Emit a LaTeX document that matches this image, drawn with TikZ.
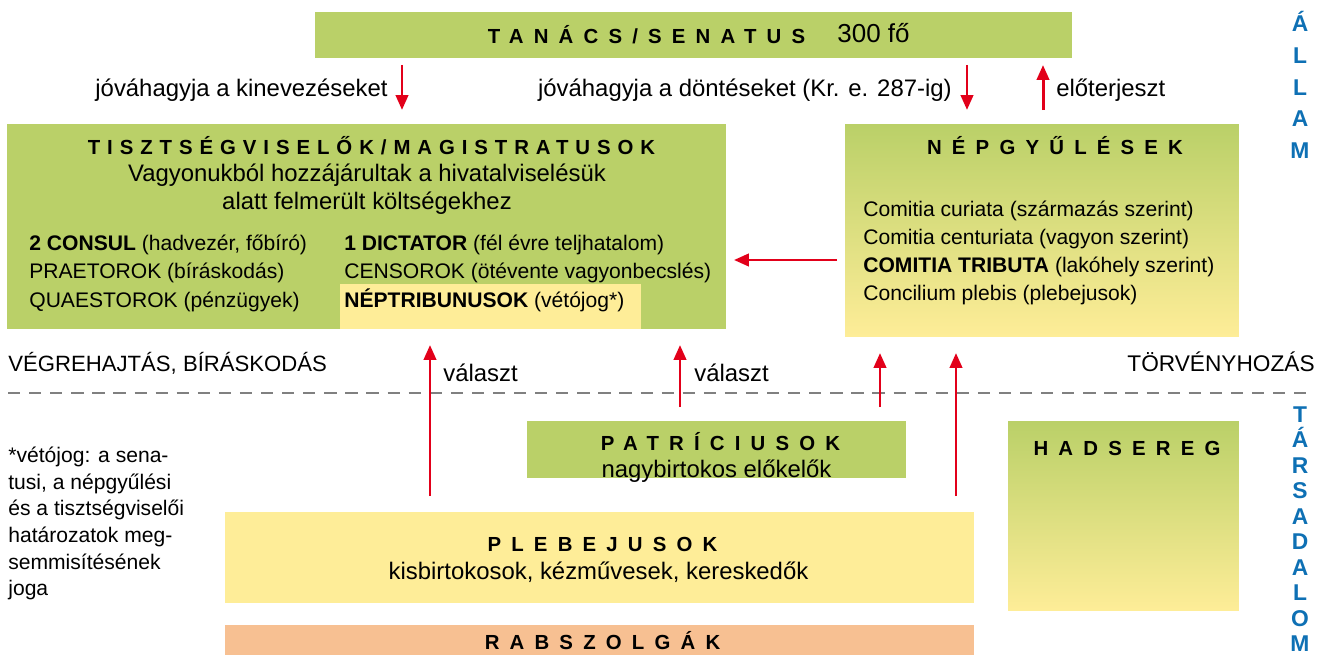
\documentclass[tikz,border=0pt]{standalone}
\usepackage{fontspec}
\setmainfont{Liberation Sans}
\usepackage{tikz}
\usetikzlibrary{arrows.meta}

\definecolor{zold}{RGB}{186,208,104}
\definecolor{sarga}{RGB}{254,237,152}
\definecolor{narancs}{RGB}{247,192,146}
\definecolor{piros}{RGB}{226,0,26}
\definecolor{kek}{RGB}{14,112,180}
\definecolor{szurke}{RGB}{128,128,128}

\begin{document}
\begin{tikzpicture}[
    x=0.02cm, y=-0.02cm,     % 1 像素 = 0.02cm
    % 盒子样式定义
    doboz/.style={
        rectangle,           % 矩形
        inner sep=0pt,       % 内部填充为0
        outer sep=0pt        % 外部填充为0
    },
    zold doboz/.style={doboz, fill=zold},
    sarga doboz/.style={doboz, fill=sarga},
    narancs doboz/.style={doboz, fill=narancs},
    atmenet doboz/.style={doboz, top color=zold, bottom color=sarga}, % 渐变填充
    % 文字样式定义
    nagy/.style={
        font=\fontsize{13.6}{16}\selectfont,
        inner sep=0pt,
        text height=10.2pt,
        text depth=2.9pt
    },
    kis/.style={
        font=\fontsize{12}{15}\selectfont,
        inner sep=0pt,
        text height=9pt,
        text depth=2.5pt
    },
    cim/.style={
        font={\fontsize{11.6}{14}\selectfont\bfseries\addfontfeature{LetterSpace=50}},
        inner sep=0pt,
        text height=8.4pt,
        text depth=0pt
    },
    betu/.style={
        font=\fontsize{13}{18}\selectfont\bfseries,
        text=kek,
        align=center,
        inner sep=0pt
    },
    % 箭头样式定义
    nyil/.style={
        draw=piros,          % 红色
        line width=1.7pt,    % 线宽
        -{Triangle[length=8.5pt, width=7pt]}
    },
    % 虚线样式定义
    szaggatott/.style={
        draw=szurke,
        line width=1.7pt,
        dash pattern=on 7pt off 5pt
    }
]
\useasboundingbox (0,0) rectangle (1330,655);

% 定义盒子
\node[zold doboz, minimum width=15.14cm, minimum height=0.92cm] (tanacs) at (693.5,35) {};
\node[zold doboz, minimum width=14.38cm, minimum height=4.1cm] (magis) at (366.5,226.5) {};
\node[sarga doboz, minimum width=6.02cm, minimum height=0.9cm] (ntribh) at (490.5,306.5) {};
\node[atmenet doboz, minimum width=7.88cm, minimum height=4.26cm] (nepgy) at (1042,230.5) {};
\node[zold doboz, minimum width=7.58cm, minimum height=1.14cm] (patr) at (716.5,449.5) {};
\node[atmenet doboz, minimum width=4.62cm, minimum height=3.8cm] (hads) at (1123.5,516) {};
\node[sarga doboz, minimum width=14.98cm, minimum height=1.82cm] (pleb) at (599.5,557.5) {};
\node[narancs doboz, minimum width=14.98cm, minimum height=0.7cm] (rab) at (599.5,642.5) {};

% 分隔线
\coordinate (sz1) at (8,393);
\coordinate (sz2) at (1315,393);
\draw[szaggatott] (sz1) -- (sz2);

% 箭头的横坐标
\coordinate (n1) at (402,0);
\coordinate (n2) at (967,0);
\coordinate (n3) at (1043,0);
\coordinate (b1) at (0,260);
\coordinate (v1) at (430,0);
\coordinate (v2) at (680,0);
\coordinate (v3) at (880,0);
\coordinate (v4) at (956,0);

% 箭头
\draw[nyil, shorten <=0.14cm, shorten >=0.28cm] (tanacs.south -| n1) -- (magis.north -| n1);
\draw[nyil, shorten <=0.14cm, shorten >=0.28cm] (tanacs.south -| n2) -- (nepgy.north -| n2);
\draw[nyil, shorten <=0.28cm, shorten >=0.14cm] (nepgy.north -| n3) -- (tanacs.south -| n3);
\draw[nyil, shorten <=0.16cm, shorten >=0.16cm] (nepgy.west |- b1) -- (magis.east |- b1);
\draw[nyil, shorten <=0.32cm, shorten >=0.32cm] (pleb.north -| v1) -- (magis.south -| v1);
\draw[nyil, shorten <=0.28cm, shorten >=0.32cm] (patr.north -| v2) -- (magis.south -| v2);
\draw[nyil, shorten <=0.28cm, shorten >=0.32cm] (patr.north -| v3) -- (nepgy.south -| v3);
\draw[nyil, shorten <=0.32cm, shorten >=0.32cm] (pleb.north -| v4) -- (nepgy.south -| v4);

% 定义文字
\node[cim] (tanacscim) at (646.5,36) {TANÁCS/SENATUS};
\node[nagy, anchor=west, font=\fontsize{14.8}{17}\selectfont] (fo) at (837,36) {300 fő};
\node[nagy, anchor=east] (kinev) at (388,90) {jóváhagyja a kinevezéseket};
\node[nagy, anchor=east] (dont) at (952,90) {jóváhagyja a döntéseket (Kr. e. 287-ig)};
\node[nagy, anchor=west] (eloterj) at (1056,90) {előterjeszt};

\node[cim, font={\fontsize{11.6}{14}\selectfont\bfseries\addfontfeature{LetterSpace=34}}] (magiscim) at (371.5,147) {TISZTSÉGVISELŐK/MAGISTRATUSOK};
\node[nagy] (vagyon1) at (367,175) {Vagyonukból hozzájárultak a hivatalviselésük};
\node[nagy] (vagyon2) at (367,203) {alatt felmerült költségekhez};
\node[kis, anchor=west] (consul) at (29,245) {\textbf{2 CONSUL} (hadvezér, főbíró)};
\node[kis, anchor=west] (praetor) at (29,273) {PRAETOROK (bíráskodás)};
\node[kis, anchor=west] (quaestor) at (29,302) {QUAESTOROK (pénzügyek)};
\node[kis, anchor=west] (dictator) at (344,245) {\textbf{1 DICTATOR} (fél évre teljhatalom)};
\node[kis, anchor=west] (censor) at (344,273) {CENSOROK (ötévente vagyonbecslés)};
\node[kis, anchor=west] (ntrib) at (344,302) {\textbf{NÉPTRIBUNUSOK} (vétójog*)};

\node[cim] (nepgycim) at (1055,147) {NÉPGYŰLÉSEK};
\node[kis, anchor=west] (curiata) at (863,211) {Comitia curiata (származás szerint)};
\node[kis, anchor=west] (centuriata) at (863,239) {Comitia centuriata (vagyon szerint)};
\node[kis, anchor=west] (tributa) at (863,267) {\textbf{COMITIA TRIBUTA} (lakóhely szerint)};
\node[kis, anchor=west] (concilium) at (863,295) {Concilium plebis (plebejusok)};

\node[nagy, anchor=west, font=\fontsize{12.6}{15}\selectfont] (vegreh) at (8,365) {VÉGREHAJTÁS, BÍRÁSKODÁS};
\node[nagy, anchor=east, font=\fontsize{12.9}{15}\selectfont] (torv) at (1315,365) {TÖRVÉNYHOZÁS};
\node[nagy, anchor=west] (valaszt1) at (443,375) {választ};
\node[nagy, anchor=west] (valaszt2) at (694,375) {választ};

\node[cim] (patrcim) at (720.5,443) {PATRÍCIUSOK};
\node[nagy] (patrsor) at (716.5,471) {nagybirtokos előkelők};
\node[cim] (hadscim) at (1127,448) {HADSEREG};
\node[cim] (plebcim) at (602.5,544) {PLEBEJUSOK};
\node[nagy] (plebsor) at (598.5,573) {kisbirtokosok, kézművesek, kereskedők};
\node[cim] (rabcim) at (602.5,642) {RABSZOLGÁK};

% 脚注
\foreach \sor [count=\i from 0] in {{*vétójog: a sena-}, {tusi, a népgyűlési}, {és a tisztségviselői}, {határozatok meg-}, {semmisítésének}, {joga}}
    \node[kis, anchor=west] (lab\i) at (8,{457+26.6*\i}) {\sor};

% 竖排文字
\node[betu] (allam) at (1300,85) {Á\\L\\L\\A\\M};
\node[betu, font=\fontsize{13}{14.5}\selectfont\bfseries] (tarsad) at (1300,529) {T\\Á\\R\\S\\A\\D\\A\\L\\O\\M};

\end{tikzpicture}
\end{document}
